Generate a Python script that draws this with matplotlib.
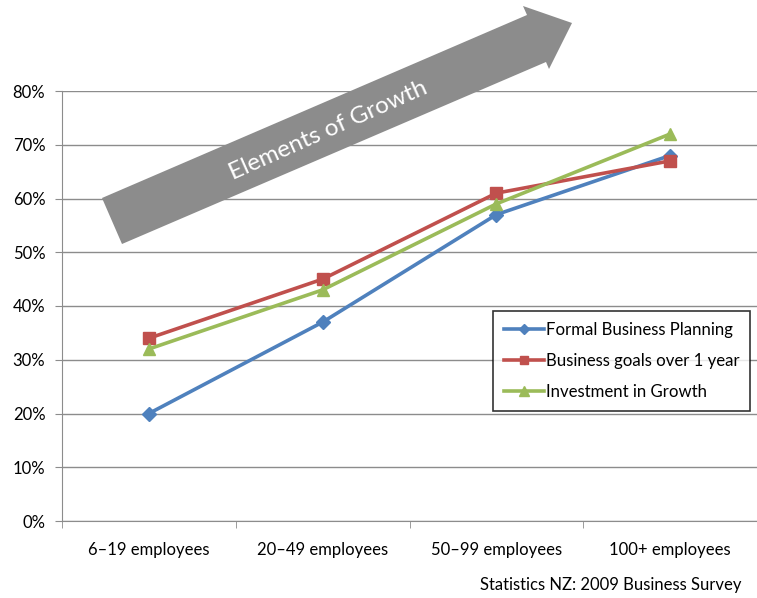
import matplotlib.pyplot as plt
from matplotlib.patches import Polygon
from matplotlib.ticker import PercentFormatter

plt.rcParams['font.family'] = ['Lato', 'DejaVu Sans']

# data
categories = ['6–19 employees', '20–49 employees', '50–99 employees', '100+ employees']
formal_planning = [20, 37, 57, 68]
goals_over_1yr = [34, 45, 61, 67]
investment_growth = [32, 43, 59, 72]

W, H = 757, 598
fig = plt.figure(figsize=(W / 100, H / 100), dpi=100)
# plot area in pixels: left 62, right 757, top 91, bottom 521
ax = fig.add_axes([62 / W, 1 - 521 / H, 695 / W, 430 / H])

x = range(len(categories))
ax.plot(x, formal_planning, color='#4F81BD', lw=2.6, marker='D', ms=7,
        label='Formal Business Planning', zorder=3)
ax.plot(x, goals_over_1yr, color='#C0504D', lw=2.6, marker='s', ms=8,
        label='Business goals over 1 year', zorder=3)
ax.plot(x, investment_growth, color='#9BBB59', lw=2.6, marker='^', ms=9,
        label='Investment in Growth', zorder=4)

ax.set_xlim(-0.5, len(categories) - 0.5)
ax.set_ylim(0, 80)
ax.set_yticks(range(0, 81, 10))
ax.yaxis.set_major_formatter(PercentFormatter(decimals=0))
ax.grid(axis='y', color='#8c8c8c', lw=1)
ax.set_axisbelow(True)

ax.set_xticks(list(x))
ax.set_xticklabels(categories, fontsize=12)
ax.tick_params(axis='x', length=0, pad=15)
# category separator ticks
ax.set_xticks([i - 0.5 for i in range(len(categories))], minor=True)
ax.tick_params(axis='x', which='minor', length=5, color='#8c8c8c')
ax.tick_params(axis='y', length=5, color='#8c8c8c', labelsize=12, pad=7)

for s in ['top', 'right']:
    ax.spines[s].set_visible(False)
for s in ['left', 'bottom']:
    ax.spines[s].set_color('#8c8c8c')

leg = ax.legend(loc='upper left', bbox_to_anchor=(0.62, 0.488), fontsize=12.1,
                frameon=True, fancybox=False, edgecolor='black',
                handlelength=2.4, handletextpad=0.1, labelspacing=0.9,
                borderpad=0.65, borderaxespad=0, markerscale=0.8)
leg.get_frame().set_linewidth(1.2)

# big grey arrow (pixel coords, y from top)
arrow_px = [(102, 198), (527, 15), (523, 6), (572, 23), (549, 69),
            (546, 62), (122, 244)]
arrow_fig = [(px / W, 1 - py / H) for px, py in arrow_px]
fig.patches.append(Polygon(arrow_fig, closed=True, transform=fig.transFigure,
                           facecolor='#8c8c8c', edgecolor='none', zorder=5))
fig.text(328 / W, 1 - 130 / H, 'Elements of Growth', color='white',
         fontsize=17.5, rotation=24, ha='center', va='center', zorder=6)

fig.text(741 / W, 1 - 585 / H, 'Statistics NZ: 2009 Business Survey',
         fontsize=12, ha='right', va='center')

fig.savefig('out.png', dpi=100)
